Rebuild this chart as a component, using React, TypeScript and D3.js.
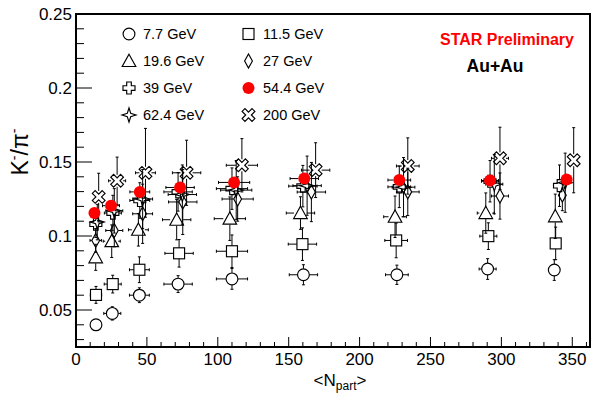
import React from 'react';
import * as d3 from 'd3';

const W = 596;
const H = 397;
const PL = 76, PR = 590, PT = 14, PB = 347;

const xTicks = [0, 50, 100, 150, 200, 250, 300, 350];
const xTickLabels = ['0', '50', '100', '150', '200', '250', '300', '350'];
const yTicks = [0.05, 0.1, 0.15, 0.2, 0.25];
const yTickLabels = ['0.05', '0.1', '0.15', '0.2', '0.25'];

const npartErr = [4, 6, 7, 10, 11, 10, 8, 6, 2];

const npart7 = [14.1, 25.6, 44.7, 72, 110, 160.4, 226.3, 290.3, 337.3];
const ratio7 = [0.040, 0.0477, 0.060, 0.0675, 0.071, 0.0738, 0.0738, 0.0777, 0.0770];
const err7 = [0.003, 0.0045, 0.005, 0.0057, 0.007, 0.0068, 0.0065, 0.007, 0.007];

const npart11 = [14.1, 25.9, 44.7, 72.7, 110, 159.7, 225.8, 290.8, 338.3];
const ratio11 = [0.0602, 0.0675, 0.0772, 0.0883, 0.0897, 0.0945, 0.097, 0.0999, 0.095];
const err11 = [0.0057, 0.006, 0.0087, 0.0093, 0.011, 0.011, 0.0117, 0.009, 0.011];

const npart19 = [13.9, 25.2, 44, 71, 108.5, 158.3, 225, 289, 338];
const ratio19 = [0.0856, 0.0965, 0.1042, 0.111, 0.1117, 0.1155, 0.113, 0.1155, 0.1133];
const err19 = [0.0088, 0.011, 0.011, 0.0136, 0.0147, 0.011, 0.014, 0.0136, 0.015];

const npart27 = [13.9, 27, 47, 75.3, 114, 166, 234, 299, 343];
const ratio27 = [0.097, 0.1037, 0.115, 0.123, 0.125, 0.1297, 0.1298, 0.127, 0.1276];
const err27 = [0.008, 0.011, 0.02, 0.022, 0.015, 0.02, 0.016, 0.0156, 0.0105];

const npart39 = [14, 26, 45, 72, 110, 160, 228, 292, 341];
const ratio39 = [0.108, 0.1155, 0.124, 0.1298, 0.132, 0.1337, 0.1332, 0.137, 0.134];
const err39 = [0.009, 0.012, 0.012, 0.013, 0.014, 0.014, 0.014, 0.014, 0.014];

const npart54 = [13, 24.7, 45, 73.4, 111.5, 161, 228, 292, 346];
const ratio54 = [0.1155, 0.1205, 0.1298, 0.1328, 0.1362, 0.1388, 0.1378, 0.1375, 0.1382];
const err54 = [0.002, 0.002, 0.002, 0.002, 0.002, 0.002, 0.002, 0.002, 0.002];

const npart62 = [15, 27, 47, 75, 113, 163, 231, 295, 345];
const ratio62 = [0.1094, 0.117, 0.125, 0.128, 0.131, 0.134, 0.133, 0.135, 0.136];
const err62 = [0.012, 0.015, 0.02, 0.02, 0.02, 0.02, 0.02, 0.02, 0.02];

const npart200 = [16, 29, 49, 78, 117, 169, 234, 299, 351];
const ratio200 = [0.1264, 0.1373, 0.1427, 0.1427, 0.1478, 0.1445, 0.1473, 0.1525, 0.1512];
const err200 = [0.016, 0.016, 0.03, 0.022, 0.018, 0.0185, 0.019, 0.021, 0.022];

type Shape = 'circle' | 'square' | 'triangle' | 'diamond' | 'cross' | 'dot' | 'star' | 'xcross';

interface Series {
  label: string;
  shape: Shape;
  npart: number[];
  ratio: number[];
  err: number[];
}

const seriesList: Series[] = [
  { label: '7.7 GeV', shape: 'circle', npart: npart7, ratio: ratio7, err: err7 },
  { label: '11.5 GeV', shape: 'square', npart: npart11, ratio: ratio11, err: err11 },
  { label: '19.6 GeV', shape: 'triangle', npart: npart19, ratio: ratio19, err: err19 },
  { label: '27 GeV', shape: 'diamond', npart: npart27, ratio: ratio27, err: err27 },
  { label: '39 GeV', shape: 'cross', npart: npart39, ratio: ratio39, err: err39 },
  { label: '54.4 GeV', shape: 'dot', npart: npart54, ratio: ratio54, err: err54 },
  { label: '62.4 GeV', shape: 'star', npart: npart62, ratio: ratio62, err: err62 },
  { label: '200 GeV', shape: 'xcross', npart: npart200, ratio: ratio200, err: err200 },
];

const drawOrder = [0, 1, 2, 3, 4, 6, 7, 5];

const gap: Record<Shape, [number, number]> = {
  circle: [6, 6],
  square: [5.5, 5.5],
  triangle: [6.5, 6],
  diamond: [4, 7],
  cross: [6, 6],
  dot: [6, 6],
  star: [6.5, 6.5],
  xcross: [6, 6],
};

function crossPath(cx: number, cy: number, a: number, L: number, rot: number) {
  const pts: [number, number][] = [
    [-a, -L], [a, -L], [a, -a], [L, -a], [L, a], [a, a], [a, L], [-a, L], [-a, a], [-L, a], [-L, -a], [-a, -a],
  ];
  const c = Math.cos(rot), s = Math.sin(rot);
  return 'M' + pts.map(([x, y]) => `${cx + x * c - y * s},${cy + x * s + y * c}`).join('L') + 'Z';
}

function Marker({ shape, cx, cy }: { shape: Shape; cx: number; cy: number }) {
  const st = { fill: 'none', stroke: '#000', strokeWidth: 1.15 };
  switch (shape) {
    case 'circle':
      return <circle cx={cx} cy={cy} r={5.9} {...st} />;
    case 'square':
      return <rect x={cx - 5.5} y={cy - 5.5} width={11} height={11} {...st} />;
    case 'triangle':
      return <path d={`M${cx},${cy - 6.8}L${cx + 6.8},${cy + 5.5}L${cx - 6.8},${cy + 5.5}Z`} {...st} />;
    case 'diamond':
      return <path d={`M${cx},${cy - 7}L${cx + 3.9},${cy}L${cx},${cy + 7}L${cx - 3.9},${cy}Z`} {...st} />;
    case 'cross':
      return <path d={crossPath(cx, cy, 2.3, 6, 0)} {...st} />;
    case 'xcross':
      return <path d={crossPath(cx, cy, 2.0, 7.0, Math.PI / 4)} {...st} />;
    case 'dot':
      return <circle cx={cx} cy={cy} r={6} fill="#ff0000" stroke="none" />;
    case 'star': {
      const o = 7, i = 1.7;
      const d = `M${cx},${cy - o}L${cx + i},${cy - i}L${cx + o},${cy}L${cx + i},${cy + i}L${cx},${cy + o}L${cx - i},${cy + i}L${cx - o},${cy}L${cx - i},${cy - i}Z`;
      return <path d={d} {...st} />;
    }
  }
  return null;
}

export default function App() {
  const x = d3.scaleLinear().domain([0, 362.5]).range([PL, PR]);
  const y = d3.scaleLinear().domain([0.025, 0.25]).range([PB, PT]);

  const xMinor = d3.range(0, 362, 10);
  const yMinor = d3.range(0.03, 0.2501, 0.01);

  const font = '"Liberation Sans", Arial, Helvetica, sans-serif';

  const cap = 1.5;

  const errorBars = (s: Series, si: number) => {
    const [gx, gy] = gap[s.shape];
    const lines: JSX.Element[] = [];
    s.npart.forEach((n, i) => {
      const cx = x(n), cy = y(s.ratio[i]);
      const xl = x(n - npartErr[i]), xr = x(n + npartErr[i]);
      const yt = y(s.ratio[i] + s.err[i]), yb = y(s.ratio[i] - s.err[i]);
      if (cx - xl > gx) {
        lines.push(<line key={`l${si}-${i}`} x1={xl} x2={cx - gx} y1={cy} y2={cy} />);
        lines.push(<line key={`lc${si}-${i}`} x1={xl} x2={xl} y1={cy - cap} y2={cy + cap} />);
        lines.push(<line key={`r${si}-${i}`} x1={cx + gx} x2={xr} y1={cy} y2={cy} />);
        lines.push(<line key={`rc${si}-${i}`} x1={xr} x2={xr} y1={cy - cap} y2={cy + cap} />);
      }
      if (cy - yt > gy) {
        lines.push(<line key={`t${si}-${i}`} x1={cx} x2={cx} y1={yt} y2={cy - gy} />);
        lines.push(<line key={`tc${si}-${i}`} x1={cx - cap} x2={cx + cap} y1={yt} y2={yt} />);
        lines.push(<line key={`b${si}-${i}`} x1={cx} x2={cx} y1={cy + gy} y2={yb} />);
        lines.push(<line key={`bc${si}-${i}`} x1={cx - cap} x2={cx + cap} y1={yb} y2={yb} />);
      }
    });
    return <g key={`e${si}`} stroke="#000" strokeWidth={1}>{lines}</g>;
  };

  const legendCols = [129, 248.5];
  const legendTextX = [143, 263];
  const legendRowY = [34, 61, 88, 115];

  return (
    <svg width={W} height={H} style={{ position: 'absolute', left: 0, top: 0, background: '#fff' }} fontFamily={font}>
      <rect x={0} y={0} width={W} height={H} fill="#fff" />
      <g stroke="#000" strokeWidth={1}>
        {xMinor.map((v) => (
          <line key={`xm${v}`} x1={x(v)} x2={x(v)} y1={PB} y2={PB - (v % 50 === 0 ? 10 : 5)} />
        ))}
        {yMinor.map((v) => {
          const major = Math.abs(Math.round(v * 100) % 5) === 0;
          return <line key={`ym${v.toFixed(2)}`} x1={PL} x2={PL + (major ? 16 : 8)} y1={y(v)} y2={y(v)} />;
        })}
      </g>
      <rect x={PL} y={PT} width={PR - PL} height={PB - PT} fill="none" stroke="#000" strokeWidth={2} />
      {xTicks.map((v, i) => (
        <text key={`xt${v}`} x={x(v)} y={365} fontSize={17} textAnchor="middle" fill="#000">{xTickLabels[i]}</text>
      ))}
      {yTicks.map((v, i) => (
        <text key={`yt${v}`} x={72} y={y(v) + 6} fontSize={17} textAnchor="end" fill="#000">{yTickLabels[i]}</text>
      ))}
      <text x={340} y={386} fontSize={17} textAnchor="middle" fill="#000">
        {'<N'}<tspan fontSize={12} dy={4}>part</tspan><tspan dy={-4}>{'>'}</tspan>
      </text>
      <text transform="translate(28,152) rotate(-90)" fontSize={23} textAnchor="middle" fill="#000">
        K<tspan fontSize={14} dy={-9}>-</tspan><tspan dy={9}>/π</tspan><tspan fontSize={14} dy={-9}>-</tspan>
      </text>
      {drawOrder.map((si) => errorBars(seriesList[si], si))}
      {drawOrder.map((si) => (
        <g key={`m${si}`}>
          {seriesList[si].npart.map((n, i) => (
            <Marker key={i} shape={seriesList[si].shape} cx={x(n)} cy={y(seriesList[si].ratio[i])} />
          ))}
        </g>
      ))}
      {seriesList.map((s, i) => {
        const col = i % 2, row = Math.floor(i / 2);
        return (
          <g key={`lg${i}`}>
            <Marker shape={s.shape} cx={legendCols[col]} cy={legendRowY[row]} />
            <text x={legendTextX[col]} y={legendRowY[row] + 5.3} fontSize={14.5} fill="#000">{s.label}</text>
          </g>
        );
      })}
      <text x={507} y={45} fontSize={16} fontWeight="bold" textAnchor="middle" fill="#ff0000">STAR Preliminary</text>
      <text x={495} y={71.5} fontSize={17.5} fontWeight="bold" textAnchor="middle" fill="#000">Au+Au</text>
    </svg>
  );
}
